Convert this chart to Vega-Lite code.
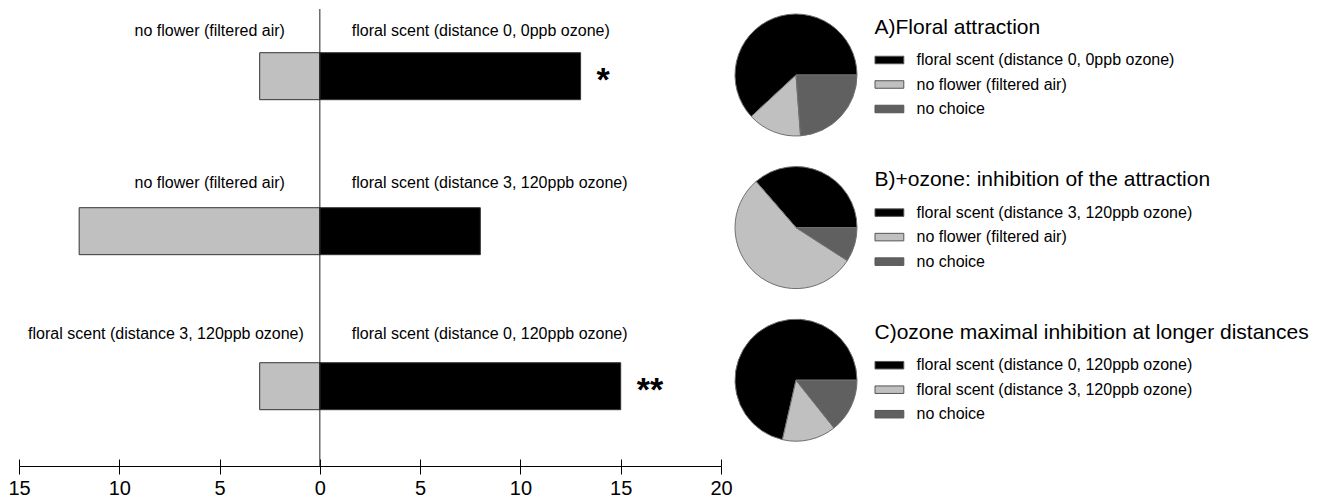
{
  "$schema": "https://vega.github.io/schema/vega-lite/v6.json",
  "padding": {"left": 7, "top": 8, "right": 0, "bottom": 0},
  "config": {
    "view": {"stroke": null},
    "font": "Liberation Sans",
    "text": {"font": "Liberation Sans", "color": "#000000"}
  },
  "bounds": "flush",
  "spacing": 14,
  "resolve": {"scale": {"color": "independent", "theta": "independent"}},
  "hconcat": [
    {
      "width": 702,
      "height": 457,
      "data": {
        "values": [
          {"pair": "A", "side": "control", "value": -3, "label": "no flower (filtered air)", "sig": ""},
          {"pair": "A", "side": "test", "value": 13, "label": "floral scent (distance 0, 0ppb ozone)", "sig": "*"},
          {"pair": "B", "side": "control", "value": -12, "label": "no flower (filtered air)", "sig": ""},
          {"pair": "B", "side": "test", "value": 8, "label": "floral scent (distance 3, 120ppb ozone)", "sig": ""},
          {"pair": "C", "side": "control", "value": -3, "label": "floral scent (distance 3, 120ppb ozone)", "sig": ""},
          {"pair": "C", "side": "test", "value": 15, "label": "floral scent (distance 0, 120ppb ozone)", "sig": "**"}
        ]
      },
      "resolve": {"scale": {"y": "independent"}, "axis": {"x": "independent"}},
      "layer": [
        {
          "mark": {"type": "bar", "stroke": "#333333", "strokeWidth": 1},
          "encoding": {
            "y": {"field": "pair", "type": "nominal", "axis": null,
                  "scale": {"type": "band", "paddingInner": 0.697, "paddingOuter": 0.3226, "align": 0.437}},
            "x": {
              "field": "value", "type": "quantitative", "stack": null,
              "scale": {"domain": [-15, 20], "nice": false, "zero": false},
              "axis": {
                "orient": "bottom",
                "title": null, "grid": false,
                "values": [-15, -10, -5, 0, 5, 10, 15, 20],
                "labelExpr": "abs(datum.value)",
                "labelFontSize": 20, "labelFont": "Liberation Sans", "labelColor": "#000000",
                "labelFlush": false, "labelPadding": 4,
                "tickSize": 8, "tickColor": "#000000", "domainColor": "#000000"
              }
            },
            "color": {"field": "side", "type": "nominal",
                      "scale": {"domain": ["control", "test"], "range": ["#c0c0c0", "#000000"]},
                      "legend": null}
          }
        },
        {
          "data": {"values": [{"origin": 0}]},
          "mark": {"type": "rule", "color": "#222222", "strokeWidth": 1},
          "encoding": {
            "x": {
              "field": "origin", "type": "quantitative",
              "axis": {
                "orient": "bottom", "title": null, "grid": false, "labels": false, "domain": false,
                "values": [-15, -10, -5, 0, 5, 10, 15, 20],
                "tickSize": -7, "tickColor": "#000000"
              }
            }
          }
        },
        {
          "transform": [{"filter": "datum.side === 'control' && datum.pair !== 'C'"}],
          "mark": {"type": "text", "align": "right", "baseline": "middle", "dx": -35, "fontSize": 16},
          "encoding": {
            "y": {"field": "pair", "type": "nominal", "axis": null,
                  "scale": {"type": "point", "domain": ["A", "B", "C"], "padding": 0.5068, "align": 0.143}},
            "x": {"datum": 0, "axis": null},
            "text": {"field": "label"}
          }
        },
        {
          "transform": [{"filter": "datum.side === 'control' && datum.pair === 'C'"}],
          "mark": {"type": "text", "align": "right", "baseline": "middle", "dx": -16, "fontSize": 16},
          "encoding": {
            "y": {"field": "pair", "type": "nominal", "axis": null,
                  "scale": {"type": "point", "domain": ["A", "B", "C"], "padding": 0.5068, "align": 0.143}},
            "x": {"datum": 0, "axis": null},
            "text": {"field": "label"}
          }
        },
        {
          "transform": [{"filter": "datum.side === 'test'"}],
          "mark": {"type": "text", "align": "left", "baseline": "middle", "dx": 32, "fontSize": 16},
          "encoding": {
            "y": {"field": "pair", "type": "nominal", "axis": null,
                  "scale": {"type": "point", "domain": ["A", "B", "C"], "padding": 0.5068, "align": 0.143}},
            "x": {"datum": 0, "axis": null},
            "text": {"field": "label"}
          }
        },
        {
          "transform": [{"filter": "datum.side === 'test'"}],
          "mark": {"type": "text", "align": "left", "baseline": "middle", "dx": 16, "dy": 5, "fontSize": 34, "fontWeight": "bold"},
          "encoding": {
            "y": {"field": "pair", "type": "nominal", "axis": null,
                  "scale": {"type": "band", "domain": ["A", "B", "C"], "paddingInner": 0.697, "paddingOuter": 0.3226, "align": 0.437}},
            "x": {"field": "value", "type": "quantitative", "axis": null},
            "text": {"field": "sig"}
          }
        }
      ]
    },
    {
      "spacing": 20.6,
      "resolve": {"scale": {"color": "independent", "theta": "independent"}},
      "vconcat": [
        {
          "width": 122, "height": 132,
          "data": {"values": [
            {"choice": "floral scent (distance 0, 0ppb ozone)", "n": 13, "k": 1},
            {"choice": "no flower (filtered air)", "n": 3, "k": 2},
            {"choice": "no choice", "n": 5, "k": 3}
          ]},
          "mark": {"type": "arc", "stroke": "#707070", "strokeWidth": 1},
          "encoding": {
            "theta": {"field": "n", "type": "quantitative", "stack": true, "scale": {"range": [1.5708, -4.7124]}},
            "order": {"field": "k", "type": "quantitative"},
            "color": {
              "field": "choice", "type": "nominal",
              "scale": {"domain": ["floral scent (distance 0, 0ppb ozone)", "no flower (filtered air)", "no choice"],
                        "range": ["#000000", "#c0c0c0", "#606060"]},
              "legend": {
                "title": "A)Floral attraction", "orient": "right", "offset": 10, "padding": 7.5,
                "titleFontSize": 21, "titleFontWeight": "normal", "titleColor": "#000000", "titleFont": "Liberation Sans",
                "titlePadding": 14, "titleLimit": 600,
                "labelFontSize": 16, "labelColor": "#000000", "labelFont": "Liberation Sans", "labelOffset": 25, "labelLimit": 500,
                "symbolType": "M-1,-0.47H2.6V0.47H-1Z", "symbolSize": 256,
                "symbolStrokeColor": "#555555", "symbolStrokeWidth": 1, "rowPadding": 7.5
              }
            }
          }
        },
        {
          "width": 122, "height": 132,
          "data": {"values": [
            {"choice": "floral scent (distance 3, 120ppb ozone)", "n": 8, "k": 1},
            {"choice": "no flower (filtered air)", "n": 12, "k": 2},
            {"choice": "no choice", "n": 2, "k": 3}
          ]},
          "mark": {"type": "arc", "stroke": "#707070", "strokeWidth": 1},
          "encoding": {
            "theta": {"field": "n", "type": "quantitative", "stack": true, "scale": {"range": [1.5708, -4.7124]}},
            "order": {"field": "k", "type": "quantitative"},
            "color": {
              "field": "choice", "type": "nominal",
              "scale": {"domain": ["floral scent (distance 3, 120ppb ozone)", "no flower (filtered air)", "no choice"],
                        "range": ["#000000", "#c0c0c0", "#606060"]},
              "legend": {
                "title": "B)+ozone: inhibition of the attraction", "orient": "right", "offset": 10, "padding": 7.5,
                "titleFontSize": 21, "titleFontWeight": "normal", "titleColor": "#000000", "titleFont": "Liberation Sans",
                "titlePadding": 14, "titleLimit": 600,
                "labelFontSize": 16, "labelColor": "#000000", "labelFont": "Liberation Sans", "labelOffset": 25, "labelLimit": 500,
                "symbolType": "M-1,-0.47H2.6V0.47H-1Z", "symbolSize": 256,
                "symbolStrokeColor": "#555555", "symbolStrokeWidth": 1, "rowPadding": 7.5
              }
            }
          }
        },
        {
          "width": 122, "height": 132,
          "data": {"values": [
            {"choice": "floral scent (distance 0, 120ppb ozone)", "n": 15, "k": 1},
            {"choice": "floral scent (distance 3, 120ppb ozone)", "n": 3, "k": 2},
            {"choice": "no choice", "n": 3, "k": 3}
          ]},
          "mark": {"type": "arc", "stroke": "#707070", "strokeWidth": 1},
          "encoding": {
            "theta": {"field": "n", "type": "quantitative", "stack": true, "scale": {"range": [1.5708, -4.7124]}},
            "order": {"field": "k", "type": "quantitative"},
            "color": {
              "field": "choice", "type": "nominal",
              "scale": {"domain": ["floral scent (distance 0, 120ppb ozone)", "floral scent (distance 3, 120ppb ozone)", "no choice"],
                        "range": ["#000000", "#c0c0c0", "#606060"]},
              "legend": {
                "title": "C)ozone maximal inhibition at longer distances", "orient": "right", "offset": 10, "padding": 7.5,
                "titleFontSize": 21, "titleFontWeight": "normal", "titleColor": "#000000", "titleFont": "Liberation Sans",
                "titlePadding": 14, "titleLimit": 600,
                "labelFontSize": 16, "labelColor": "#000000", "labelFont": "Liberation Sans", "labelOffset": 25, "labelLimit": 500,
                "symbolType": "M-1,-0.47H2.6V0.47H-1Z", "symbolSize": 256,
                "symbolStrokeColor": "#555555", "symbolStrokeWidth": 1, "rowPadding": 7.5
              }
            }
          }
        }
      ]
    }
  ]
}
